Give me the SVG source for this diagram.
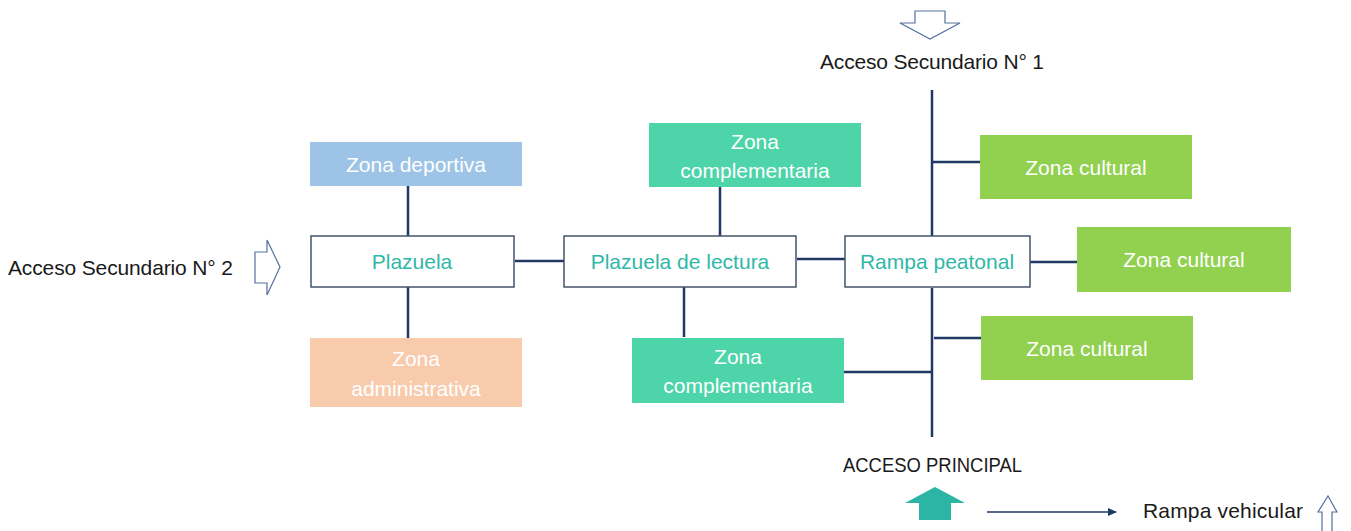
<svg xmlns="http://www.w3.org/2000/svg" width="1351" height="531" viewBox="0 0 1351 531">
<style>
text{font-family:"Liberation Sans","DejaVu Sans",sans-serif;font-size:21px;dominant-baseline:central;}
.w{fill:#ffffff;text-anchor:middle;}
.t{fill:#2fb8a8;text-anchor:middle;}
.k{fill:#1a1a1a;}
.box{fill:#ffffff;stroke:#44546a;stroke-width:1.5;}
.dep{fill:#9dc3e6;}
.adm{fill:#f8cbad;}
.com{fill:#4dd4a8;}
.cul{fill:#92d050;}
.ln{stroke:#203864;stroke-width:2.5;fill:none;}
.oa{fill:#ffffff;stroke:#5470a0;stroke-width:1.2;}
</style>
<defs>
<marker id="ah" markerWidth="10" markerHeight="10" refX="8" refY="5" orient="auto" markerUnits="userSpaceOnUse">
<path d="M0,1 L9,5 L0,9 Z" fill="#203864"/>
</marker>
</defs>
<g id="connectors">
<line class="ln" x1="408" y1="186" x2="408" y2="236"/>
<line class="ln" x1="408" y1="287" x2="408" y2="338"/>
<line class="ln" x1="515" y1="261" x2="564" y2="261"/>
<line class="ln" x1="720" y1="187" x2="720" y2="236"/>
<line class="ln" x1="684" y1="287" x2="684" y2="337"/>
<line class="ln" x1="797" y1="259" x2="845" y2="259"/>
<line class="ln" x1="932" y1="90" x2="932" y2="236"/>
<line class="ln" x1="932" y1="288" x2="932" y2="437"/>
<line class="ln" x1="932" y1="162" x2="980" y2="162"/>
<line class="ln" x1="1030" y1="262" x2="1077" y2="262"/>
<line class="ln" x1="934" y1="338" x2="981" y2="338"/>
<line class="ln" x1="844" y1="372" x2="932" y2="372"/>
<line x1="987" y1="512" x2="1116" y2="512" stroke="#203864" stroke-width="1.3" marker-end="url(#ah)"/>
</g>
<g id="zona-deportiva"><rect class="dep" x="310" y="142" width="212" height="44"/><text class="w" x="416" y="164">Zona deportiva</text></g>
<g id="plazuela"><rect class="box" x="311" y="236" width="203" height="51"/><text class="t" x="412" y="261">Plazuela</text></g>
<g id="zona-administrativa"><rect class="adm" x="310" y="338" width="212" height="69"/><text class="w" x="416" y="358">Zona</text><text class="w" x="416" y="388">administrativa</text></g>
<g id="zona-complementaria-1"><rect class="com" x="649" y="123" width="212" height="64"/><text class="w" x="755" y="141">Zona</text><text class="w" x="755" y="170">complementaria</text></g>
<g id="plazuela-lectura"><rect class="box" x="564" y="236" width="232" height="51"/><text class="t" x="680" y="261">Plazuela de lectura</text></g>
<g id="zona-complementaria-2"><rect class="com" x="632" y="338" width="212" height="65"/><text class="w" x="738" y="356">Zona</text><text class="w" x="738" y="385">complementaria</text></g>
<g id="rampa-peatonal"><rect class="box" x="845" y="236" width="185" height="51"/><text class="t" x="937" y="261">Rampa peatonal</text></g>
<g id="zona-cultural-1"><rect class="cul" x="980" y="135" width="212" height="64"/><text class="w" x="1086" y="167">Zona cultural</text></g>
<g id="zona-cultural-2"><rect class="cul" x="1077" y="227" width="214" height="65"/><text class="w" x="1184" y="259">Zona cultural</text></g>
<g id="zona-cultural-3"><rect class="cul" x="981" y="316" width="212" height="64"/><text class="w" x="1087" y="348">Zona cultural</text></g>
<g id="acceso-sec-1"><path class="oa" d="M915,11 L945,11 L945,23 L960,23 L930,39 L900,23 L915,23 Z"/><text class="k" x="820" y="61" textLength="224">Acceso Secundario N° 1</text></g>
<g id="acceso-sec-2"><path class="oa" d="M255,252 L267,252 L267,240 L280,267 L267,295 L267,283 L255,283 Z"/><text class="k" x="8" y="267" textLength="225">Acceso Secundario N° 2</text></g>
<g id="acceso-principal"><text class="k" x="843" y="464" textLength="179" lengthAdjust="spacingAndGlyphs">ACCESO PRINCIPAL</text><path d="M935,487 L965,503 L951,503 L951,520 L919,520 L919,503 L905,503 Z" fill="#2cb5a4"/></g>
<g id="rampa-vehicular"><text class="k" x="1143" y="510" textLength="160">Rampa vehicular</text><path class="oa" d="M1328,496 L1337,512 L1332,512 L1332,532 L1322,532 L1322,512 L1318,512 Z"/></g>
</svg>
